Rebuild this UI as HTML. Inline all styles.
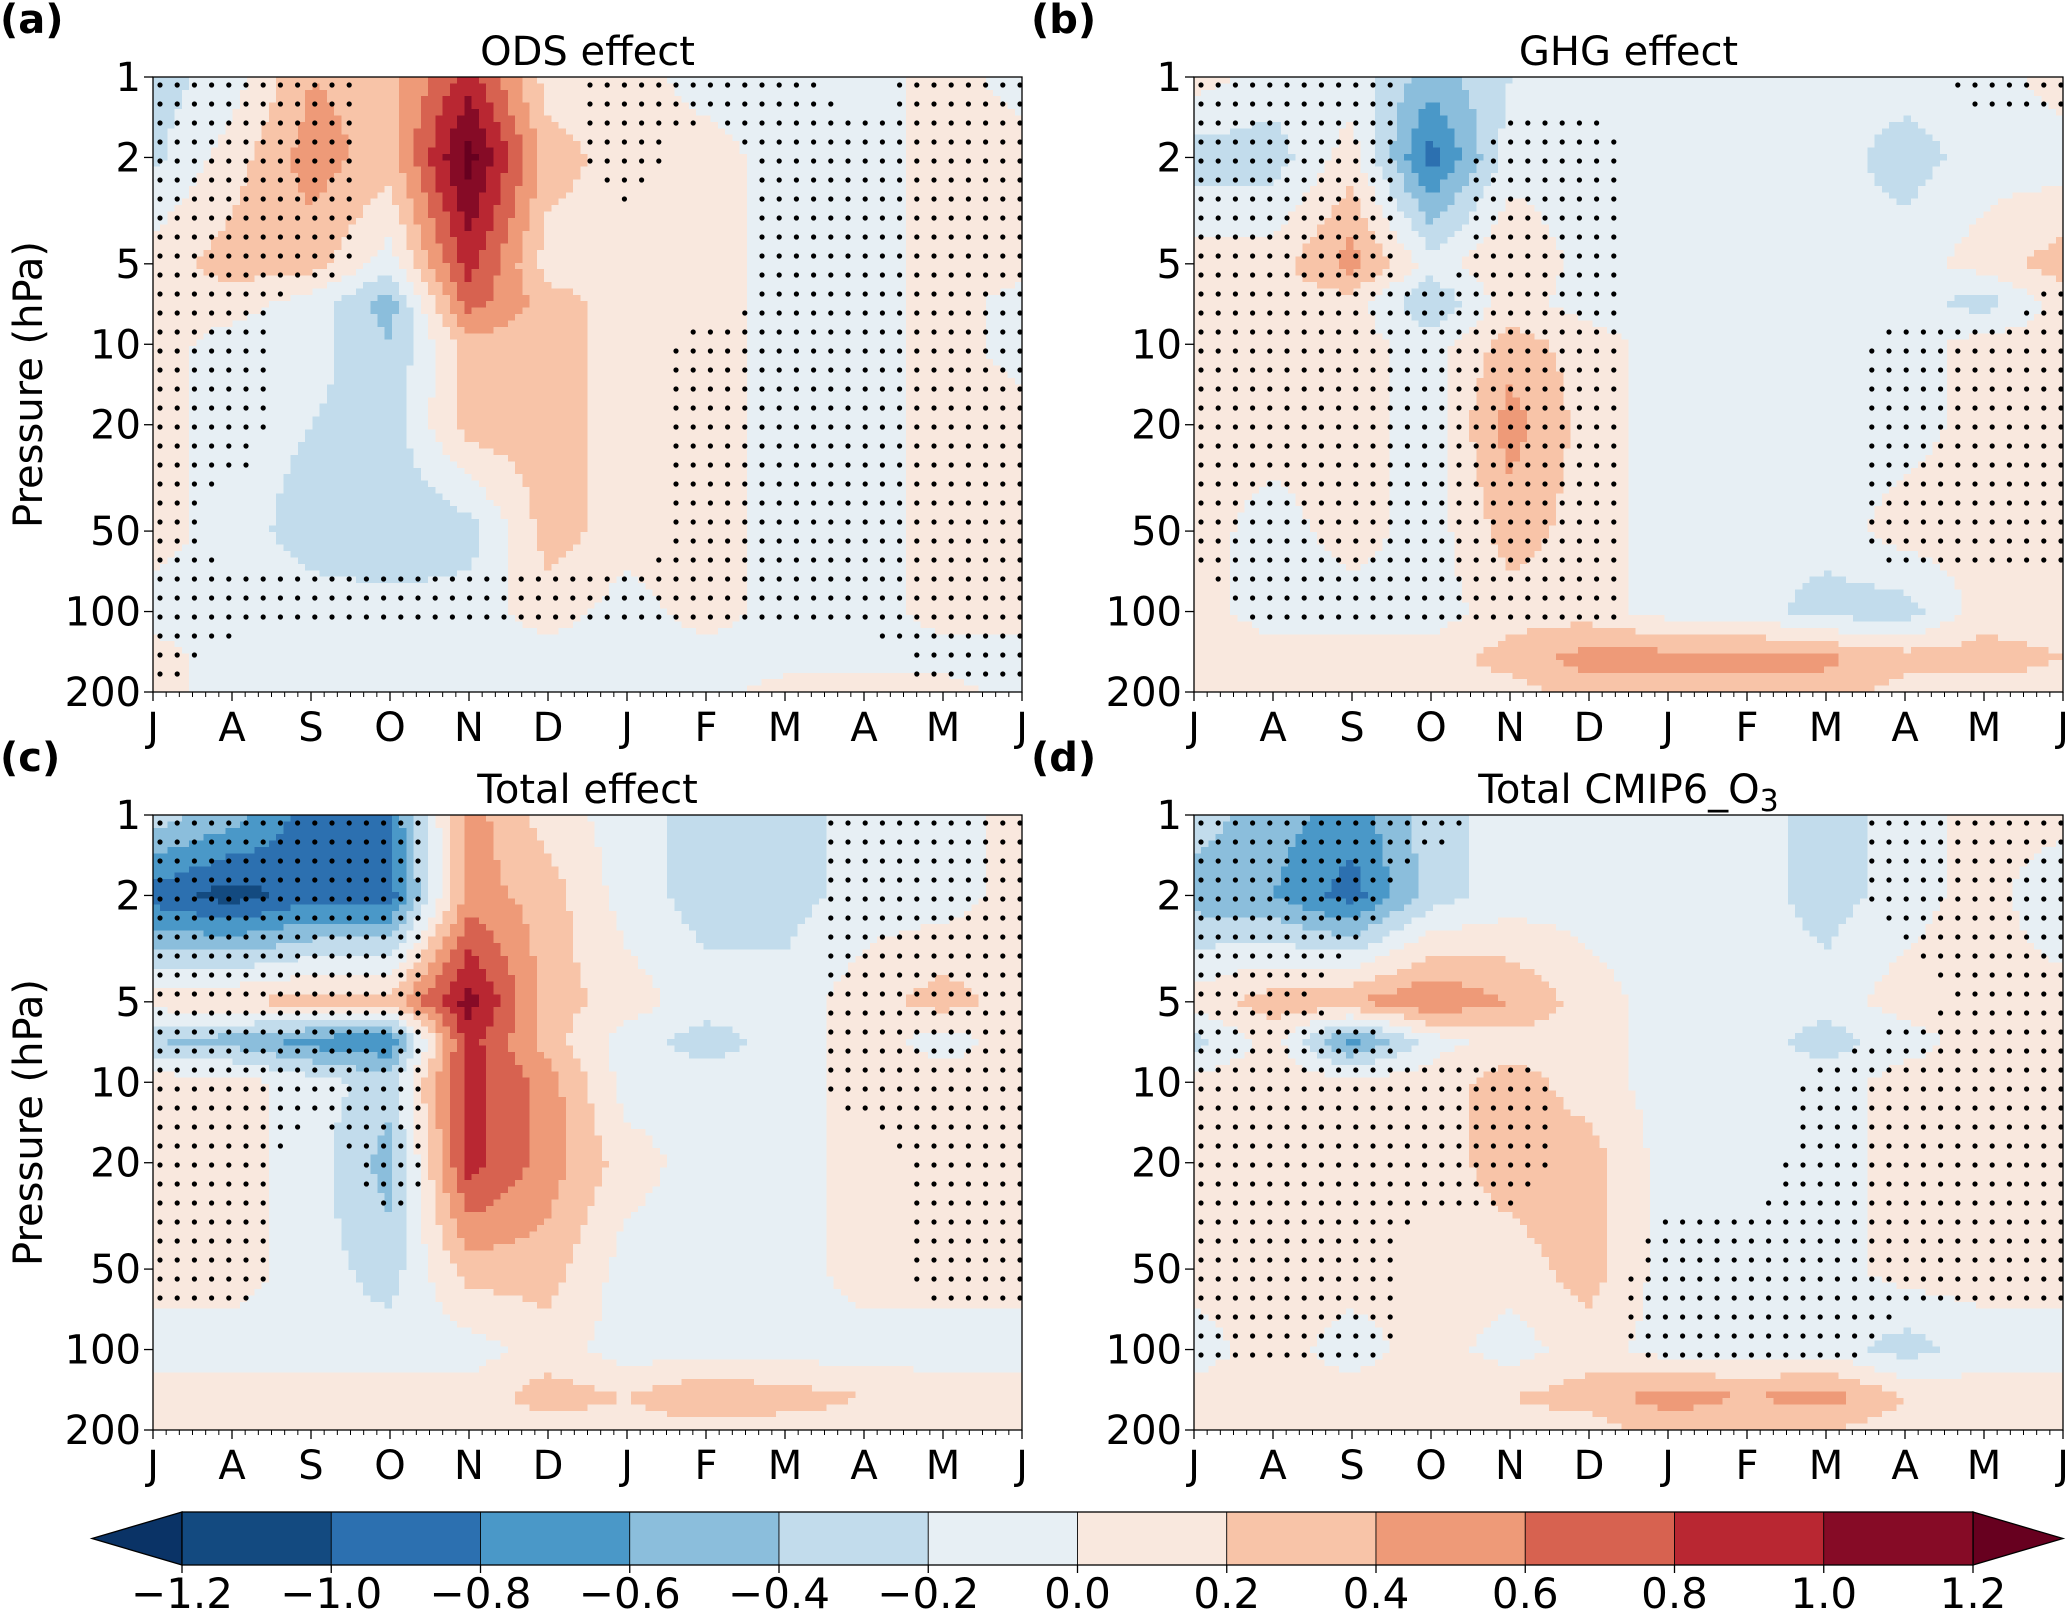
<!DOCTYPE html>
<html><head><meta charset="utf-8">
<style>
html,body{margin:0;padding:0;background:#fff;}
body{width:2067px;height:1610px;overflow:hidden;font-family:"Liberation Sans","DejaVu Sans",sans-serif;}
svg text{font-family:"DejaVu Sans","Liberation Sans",sans-serif;}
</style></head>
<body>
<svg id="fig" width="2067" height="1610" xmlns="http://www.w3.org/2000/svg"></svg>
<script>
const monthLabels = ["J","A","S","O","N","D","J","F","M","A","M","J"];
const levels = [1,2,5,7,10,20,50,100,150,200];
const pTicks = [1,2,5,10,20,50,100,200];
const cbBounds = [-1.2,-1.0,-0.8,-0.6,-0.4,-0.2,0.0,0.2,0.4,0.6,0.8,1.0,1.2];
const cbLabels = ["\u22121.2","\u22121.0","\u22120.8","\u22120.6","\u22120.4","\u22120.2","0.0","0.2","0.4","0.6","0.8","1.0","1.2"];
const titles = ["ODS effect","GHG effect","Total effect","Total CMIP6_O"];
const panelTags = ["(a)","(b)","(c)","(d)"];

const odsValues = [
[-0.3,-0.1,0.4,0.3,0.9,0.1,0.1,-0.1,-0.1,-0.1,0.1,-0.1],
[-0.25,0.1,0.5,0.3,1.3,0.3,0.1,0.1,-0.1,-0.1,0.1,0.1],
[0.1,0.3,0.3,-0.1,0.9,0.1,0.1,0.1,-0.1,-0.1,0.1,0.1],
[0.1,0.1,-0.1,-0.5,0.7,0.3,0.1,0.1,-0.1,-0.1,0.1,-0.1],
[0.1,-0.1,-0.1,-0.4,0.3,0.3,0.1,0.1,-0.1,-0.1,0.1,-0.1],
[0.1,-0.1,-0.2,-0.3,0.3,0.3,0.1,0.1,-0.1,-0.1,0.1,0.1],
[0.1,-0.1,-0.3,-0.4,-0.3,0.3,0.1,0.1,-0.1,-0.1,0.1,0.1],
[-0.1,-0.1,-0.1,-0.1,-0.1,0.1,-0.1,0.1,-0.1,-0.1,0.1,0.1],
[0.1,-0.1,-0.1,-0.1,-0.1,-0.1,-0.1,-0.1,-0.1,-0.1,-0.1,-0.1],
[0.1,-0.1,-0.1,-0.1,-0.1,-0.1,-0.1,-0.1,0.1,0.1,0.1,-0.1]];
const ghgValues = [
[0.1,-0.1,-0.1,-0.5,-0.2,-0.1,-0.1,-0.1,-0.1,-0.1,-0.1,0.1],
[-0.3,-0.3,0.1,-0.9,-0.1,-0.1,-0.1,-0.1,-0.1,-0.3,-0.1,-0.1],
[0.1,0.1,0.5,-0.1,0.2,-0.1,-0.1,-0.1,-0.1,-0.1,0.1,0.3],
[0.1,0.1,0.1,-0.4,0.1,-0.1,-0.1,-0.1,-0.1,-0.1,-0.3,0.1],
[0.1,0.1,0.1,-0.1,0.3,0.1,-0.1,-0.1,-0.1,-0.1,0.1,0.1],
[0.1,0.1,0.1,-0.1,0.5,0.1,-0.1,-0.1,-0.1,-0.1,0.1,0.1],
[0.1,-0.1,0.1,-0.1,0.3,0.1,-0.1,-0.1,-0.1,0.1,0.1,0.1],
[0.1,-0.1,-0.1,-0.1,0.1,0.1,-0.1,-0.1,-0.3,-0.3,0.1,0.1],
[0.1,0.1,0.1,0.1,0.3,0.5,0.5,0.5,0.45,0.3,0.3,0.2],
[0.1,0.1,0.1,0.1,0.1,0.3,0.3,0.3,0.3,0.1,0.1,0.1]];
const totalValues = [
[-0.3,-0.5,-0.9,-0.8,0.5,0.1,-0.1,-0.3,-0.3,-0.1,-0.1,0.1],
[-0.9,-1.1,-0.9,-0.9,0.5,0.3,-0.1,-0.3,-0.3,-0.1,-0.1,0.1],
[0.1,0.2,0.3,0.3,1.1,0.3,0.1,-0.1,-0.1,0.1,0.3,0.1],
[-0.4,-0.5,-0.7,-0.8,0.9,0.3,-0.1,-0.3,-0.1,0.1,-0.1,0.1],
[0.1,0.1,-0.1,-0.3,0.9,0.5,-0.1,-0.1,-0.1,0.1,0.1,0.1],
[0.1,0.1,-0.1,-0.5,0.9,0.5,0.1,-0.1,-0.1,0.1,0.1,0.1],
[0.1,0.1,-0.1,-0.3,0.3,0.3,-0.1,-0.1,-0.1,0.1,0.1,0.1],
[-0.1,-0.1,-0.1,-0.1,-0.1,0.1,-0.1,-0.1,-0.1,-0.1,-0.1,-0.1],
[0.1,0.1,0.1,0.1,0.1,0.3,0.2,0.4,0.3,0.2,0.1,0.1],
[0.1,0.1,0.1,0.1,0.1,0.1,0.1,0.1,0.1,0.1,0.1,0.1]];
const cmipValues = [
[-0.3,-0.5,-0.7,-0.3,-0.1,-0.1,-0.1,-0.1,-0.3,-0.1,0.1,0.1],
[-0.5,-0.6,-0.9,-0.3,-0.1,-0.1,-0.1,-0.1,-0.3,-0.1,0.1,-0.2],
[0.1,0.3,0.4,0.6,0.4,0.1,-0.1,-0.1,-0.1,0.1,0.1,0.1],
[-0.3,0.1,-0.7,-0.1,0.1,0.1,-0.1,-0.1,-0.3,-0.1,0.1,0.1],
[0.1,0.1,0.1,0.1,0.3,0.1,-0.1,-0.1,-0.1,0.1,0.1,0.1],
[0.1,0.1,0.1,0.1,0.3,0.3,-0.1,-0.1,-0.1,0.1,0.1,0.1],
[0.1,0.1,0.1,0.1,0.1,0.3,-0.1,-0.1,-0.1,0.1,0.1,0.1],
[-0.1,0.1,-0.1,0.1,-0.1,0.1,-0.1,-0.1,-0.1,-0.3,-0.1,-0.1],
[0.1,0.1,0.1,0.1,0.2,0.3,0.5,0.4,0.5,0.2,0.1,0.1],
[0.1,0.1,0.1,0.1,0.1,0.1,0.3,0.2,0.2,0.1,0.1,0.1]];

const odsSig = [
[1,1,1,0,0,0,1,1,1,0,1,1],[1,1,1,0,0,0,1,0,1,1,1,1],[1,1,1,0,0,0,0,0,1,1,1,1],
[1,1,0,0,0,0,0,0,1,1,1,1],[1,1,0,0,0,0,0,1,1,1,1,1],[1,1,0,0,0,0,0,1,1,1,1,1],
[1,0,0,0,0,0,0,1,1,1,1,1],[1,1,1,1,1,1,1,1,1,1,1,1],[1,0,0,0,0,0,0,0,0,0,1,1],[1,0,0,0,0,0,0,0,0,0,1,1]];
const ghgSig = [
[1,1,1,0,0,0,0,0,0,0,1,1],[1,1,1,0,1,1,0,0,0,0,0,0],[1,1,1,0,1,1,0,0,0,0,0,0],
[1,1,1,1,1,1,0,0,0,0,0,1],[1,1,1,1,1,1,0,0,0,1,1,1],[1,1,1,1,1,1,0,0,0,1,1,1],
[1,1,1,1,1,1,0,0,0,1,1,1],[0,1,1,1,1,1,0,0,0,0,0,0],[0,0,0,0,0,0,0,0,0,0,0,0],[0,0,0,0,0,0,0,0,0,0,0,0]];
const totalSig = [
[1,1,1,1,0,0,0,0,0,1,1,1],[1,1,1,1,0,0,0,0,0,1,1,1],[1,1,1,1,0,0,0,0,0,1,1,1],
[1,1,1,1,0,0,0,0,0,1,1,1],[1,1,1,1,0,0,0,0,0,1,1,1],[1,1,0,1,0,0,0,0,0,0,1,1],
[1,1,0,0,0,0,0,0,0,0,1,1],[0,0,0,0,0,0,0,0,0,0,0,0],[0,0,0,0,0,0,0,0,0,0,0,0],[0,0,0,0,0,0,0,0,0,0,0,0]];
const cmipSig = [
[1,1,1,1,0,0,0,0,0,1,1,1],[1,1,1,0,0,0,0,0,0,1,1,1],[1,1,0,0,0,0,0,0,0,0,1,1],
[1,1,1,0,0,0,0,0,0,1,1,1],[1,1,1,1,1,0,0,0,1,1,1,1],[1,1,1,1,1,0,0,0,1,1,1,1],
[1,1,1,0,0,0,1,1,1,1,1,1],[1,1,1,0,0,0,1,1,1,0,0,0],[0,0,0,0,0,0,0,0,0,0,0,0],[0,0,1,1,0,0,0,0,0,0,0,0]];

const binColors = ["#0a3366","#134a80","#2c70b0","#4a98c8","#8bbedc","#c2dcec","#e7eff4","#f9e8de","#f8c4a8","#ee9a78","#d76250","#b92732","#860b26","#67001f"];

const NS="http://www.w3.org/2000/svg";
const svg=document.getElementById('fig');
function mk(tag,attrs,parent){const e=document.createElementNS(NS,tag);for(const k in attrs)e.setAttribute(k,attrs[k]);(parent||svg).appendChild(e);return e;}
function colorFor(v){let i=0;while(i<cbBounds.length&&v>=cbBounds[i])i++;return binColors[i];}

const panels=[
 {x0:153,x1:1022,y0:77,y1:692,vals:odsValues,sig:odsSig,name:"ods"},
 {x0:1194,x1:2063,y0:77,y1:692,vals:ghgValues,sig:ghgSig,name:"ghg"},
 {x0:153,x1:1022,y0:815,y1:1430,vals:totalValues,sig:totalSig,name:"total"},
 {x0:1194,x1:2063,y0:815,y1:1430,vals:cmipValues,sig:cmipSig,name:"cmip6"}];

const NM=monthLabels.length-1;
const lmax=Math.log10(200);
const ll=levels.map(Math.log10);
function interp(grid,mi,lp){
 let li=0;
 while(li<ll.length-2&&lp>ll[li+1])li++;
 let t=(lp-ll[li])/(ll[li+1]-ll[li]); t=Math.max(0,Math.min(1,t));
 let c=Math.min(NM-1,Math.floor(mi)); let s=mi-c;
 const a=grid[li][c]*(1-s)+grid[li][c+1]*s;
 const b=grid[li+1][c]*(1-s)+grid[li+1][c+1]*s;
 return a*(1-t)+b*t;
}

panels.forEach((P,pi)=>{
 const W=P.x1-P.x0,H=P.y1-P.y0;
 const xS=m=>P.x0+m/NM*W;
 const yS=p=>P.y0+Math.log10(p)/lmax*H;
 const g=mk('g',{});
 
 
 const cl=mk('clipPath',{id:'clip'+pi},g);mk('rect',{x:P.x0,y:P.y0,width:W,height:H},cl);
 const cells=mk('g',{'clip-path':'url(#clip'+pi+')','shape-rendering':'crispEdges'},g);
 
 
 const NX=120,NY=96;
 for(let j=0;j<NY;j++){
  for(let i=0;i<NX;i++){
   const mi=(i+0.5)/NX*NM, lp=(j+0.5)/NY*lmax;
   const v=interp(P.vals,mi,lp);
   const r=mk('rect',{x:(P.x0+i*W/NX).toFixed(1),y:(P.y0+j*H/NY).toFixed(1),width:(W/NX+0.8).toFixed(1),height:(H/NY+0.8).toFixed(1),fill:colorFor(v)},cells);
   
   
  }
 }
 const dots=mk('g',{fill:'#000'},g);
 
 
 for(let y=P.y0+8;y<P.y1;y+=19){
  for(let x=P.x0+7;x<P.x1;x+=17.2){
   const mi=(x-P.x0)/W*NM, lp=(y-P.y0)/H*lmax;
   if(interp(P.sig,mi,lp)>0.5){
    const d=mk('circle',{cx:x.toFixed(1),cy:y.toFixed(1),r:2.6},dots);
    
    
   }
  }
 }
 mk('rect',{x:P.x0,y:P.y0,width:W,height:H,fill:'none',stroke:'#000','stroke-width':1.3},g);
 for(let m=0;m<=NM;m++){
  mk('line',{x1:xS(m),x2:xS(m),y1:P.y1,y2:P.y1+9,stroke:'#000','stroke-width':1.3},g);
  if(m<NM){for(let k=1;k<6;k++){const xx=xS(m+k/6);mk('line',{x1:xx,x2:xx,y1:P.y1,y2:P.y1+5,stroke:'#000','stroke-width':1},g);}}
  const t=mk('text',{x:xS(m),y:P.y1+49,'font-size':40,'text-anchor':'middle'},g);
  t.textContent=monthLabels[m];
  
  
 }
 pTicks.forEach(p=>{
  mk('line',{x1:P.x0-9,x2:P.x0,y1:yS(p),y2:yS(p),stroke:'#000','stroke-width':1.3},g);
  const t=mk('text',{x:P.x0-12,y:yS(p)+14,'font-size':40,'text-anchor':'end'},g);
  t.textContent=p;
  
  
 });
 const tt=mk('text',{x:(P.x0+P.x1)/2,y:P.y0-12,'font-size':40,'text-anchor':'middle'},g);
 tt.textContent=titles[pi];
 if(pi===3){const s=mk('tspan',{'font-size':30,dy:8},tt);s.textContent="3";}
 
 
 const tag=mk('text',{x:P.x0-153+(pi%2?-10:0),y:P.y0-44,'font-size':40,'font-weight':'bold'},g);
 tag.textContent=panelTags[pi];
 
 
 if(pi%2===0){
  const yl=mk('text',{x:0,y:0,'font-size':40,'text-anchor':'middle',transform:`translate(42,${(P.y0+P.y1)/2}) rotate(-90)`},g);
  yl.textContent="Pressure (hPa)";
  
  
 }
});

const cb=mk('g',{});


const cbX0=182,cbX1=1973,cbY0=1512,cbY1=1565;
const bw=(cbX1-cbX0)/12;
const cbx=v=>cbX0+(v-cbBounds[0])/(cbBounds[12]-cbBounds[0])*(cbX1-cbX0);
const lt=mk('polygon',{points:`${cbX0},${cbY0} 92,${(cbY0+cbY1)/2} ${cbX0},${cbY1}`,fill:binColors[0],stroke:'#000','stroke-width':1.3},cb);

const rt=mk('polygon',{points:`${cbX1},${cbY0} 2063,${(cbY0+cbY1)/2} ${cbX1},${cbY1}`,fill:binColors[13],stroke:'#000','stroke-width':1.3},cb);

for(let i=0;i<12;i++){
 const r=mk('rect',{x:cbx(cbBounds[i]),y:cbY0,width:bw,height:cbY1-cbY0,fill:binColors[i+1],stroke:'#000','stroke-width':0.8},cb);
 
}
mk('rect',{x:cbX0,y:cbY0,width:cbX1-cbX0,height:cbY1-cbY0,fill:'none',stroke:'#000','stroke-width':1.3},cb);
cbBounds.forEach((b,i)=>{
 const x=cbx(b);
 mk('line',{x1:x,x2:x,y1:cbY1,y2:cbY1+8,stroke:'#000','stroke-width':1.3},cb);
 const t=mk('text',{x:x,y:1608,'font-size':42,'text-anchor':'middle'},cb);
 t.textContent=cbLabels[i];
 
 
});
</script>
</body></html>
